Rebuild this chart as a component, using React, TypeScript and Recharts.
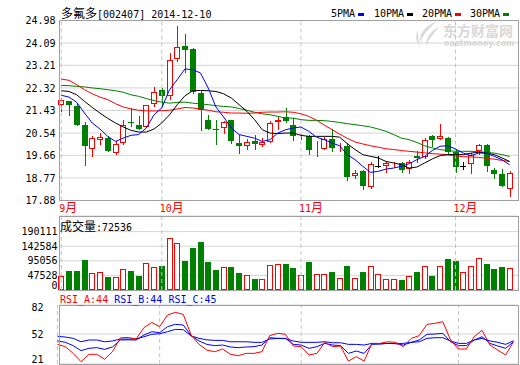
import React from "react";
import {
  Bar,
  CartesianGrid,
  ComposedChart,
  Line,
  ReferenceLine,
  XAxis,
  YAxis,
} from "recharts";

// trading days shown (2014)
const days = [
  "09-12", "09-15", "09-16", "09-17", "09-18", "09-19", "09-22", "09-23", "09-24", "09-25",
  "09-26", "09-29", "09-30", "10-08", "10-09", "10-10", "10-13", "10-14", "10-15", "10-16",
  "10-17", "10-20", "10-21", "10-22", "10-23", "10-24", "10-27", "10-28", "10-29", "10-30",
  "10-31", "11-03", "11-04", "11-05", "11-06", "11-07", "11-10", "11-11", "11-12", "11-13",
  "11-14", "11-17", "11-18", "11-19", "11-20", "11-21", "11-24", "11-25", "11-26", "11-27",
  "11-28", "12-01", "12-02", "12-03", "12-04", "12-05", "12-08", "12-09", "12-10",
];
const monthLabels: Record<string, string> = {
  "09-12": "9月",
  "10-08": "10月",
  "11-03": "11月",
  "12-01": "12月",
};

const opens = [
  21.65, 21.82, 21.62, 20.86, 19.91, 20.27, 20.34, 19.75, 20.15, 20.99,
  20.86, 20.78, 21.7, 22.25, 21.99, 23.46, 23.98, 23.87, 22.12, 21.07,
  20.69, 20.73, 21.04, 20.16, 20.02, 20.21, 20.06, 20.19, 20.96, 21.16,
  20.87, 20.38, 20.44, 19.87, 19.92, 20.31, 19.99, 20.04, 18.83, 19.06,
  18.41, 19.25, 19.25, 19.32, 19.36, 19.14, 19.62, 19.58, 20.44, 20.32,
  20.34, 19.78, 19.23, 19.32, 19.83, 20.07, 19.1, 18.94, 18.33,
];
const highs = [
  21.92, 21.82, 21.72, 20.96, 20.41, 20.54, 20.41, 20.21, 21.07, 21.53,
  21.2, 21.65, 22.36, 22.32, 23.7, 24.77, 24.46, 23.89, 22.18, 21.27,
  21.07, 21.03, 21.07, 20.48, 20.31, 20.48, 20.34, 21.0, 21.2, 21.53,
  21.14, 20.5, 20.48, 20.21, 20.38, 20.7, 20.15, 20.15, 19.07, 19.1,
  19.4, 19.65, 19.41, 19.41, 19.39, 19.49, 19.82, 20.34, 20.48, 20.91,
  20.38, 19.89, 19.41, 19.75, 20.12, 20.12, 19.16, 19.12, 19.03,
];
const lows = [
  21.36, 21.23, 20.83, 19.23, 19.6, 20.08, 19.79, 19.69, 20.06, 20.78,
  20.67, 20.74, 21.57, 21.62, 21.86, 23.33, 22.91, 22.09, 20.61, 20.65,
  20.08, 20.52, 20.12, 19.73, 19.89, 19.89, 19.98, 20.15, 20.67, 20.94,
  20.21, 20.28, 19.69, 19.59, 19.89, 19.78, 19.78, 18.64, 18.73, 18.28,
  18.33, 19.16, 18.97, 19.18, 18.97, 18.94, 19.36, 19.52, 19.99, 20.28,
  19.69, 18.97, 19.1, 18.94, 19.69, 18.99, 18.73, 18.41, 18.02,
];
const closes = [
  21.86, 21.63, 20.87, 20.02, 20.34, 20.38, 19.82, 20.11, 20.87, 20.96,
  20.71, 21.65, 22.15, 21.99, 23.43, 23.93, 23.8, 22.15, 21.44, 20.7,
  20.66, 20.99, 20.21, 20.02, 20.2, 20.12, 20.17, 20.94, 21.07, 21.0,
  20.41, 20.41, 19.86, 19.9, 20.31, 19.97, 20.03, 18.81, 18.98, 18.44,
  19.32, 19.25, 19.36, 19.35, 19.07, 19.39, 19.56, 20.25, 20.25, 20.44,
  19.78, 19.19, 19.23, 19.69, 20.06, 19.23, 18.93, 18.44, 18.97,
];
const volumes = [
  46900, 63000, 63000, 98600, 55500, 58700, 43600, 42600, 68400, 63000,
  46900, 87800, 74900, 78100, 168700, 152500, 93200, 137400, 156800, 92100,
  66300, 74900, 74900, 55500, 49000, 37200, 37200, 81400, 85700, 85700,
  72700, 50100, 90000, 53300, 53300, 57700, 40400, 79200, 40400, 57700,
  79200, 53300, 37200, 37200, 33900, 46900, 57700, 79200, 44700, 79200,
  101800, 95400, 59800, 79200, 104000, 85700, 69500, 76000, 72536,
];

const ma5 = [
  22.03, 21.96, 21.75, 21.33, 20.94, 20.7, 20.41, 20.21, 20.34, 20.45,
  20.48, 20.74, 21.26, 21.53, 22.25, 22.65, 23.07, 23.04, 22.91, 22.32,
  21.57, 21.17, 20.74, 20.48, 20.41, 20.34, 20.21, 20.28, 20.54, 20.67,
  20.74, 20.78, 20.61, 20.38, 20.28, 20.15, 20.04, 19.69, 19.49, 19.23,
  18.99, 19.03, 19.12, 19.16, 19.23, 19.33, 19.49, 19.62, 19.85, 20.02,
  20.04, 19.91, 19.75, 19.65, 19.75, 19.75, 19.62, 19.49, 19.29,
];
const ma10 = [
  22.21, 22.18, 22.05, 21.79, 21.55, 21.33, 21.12, 20.94, 20.78, 20.65,
  20.58, 20.58, 20.7, 20.94, 21.26, 21.66, 22.01, 22.21, 22.22, 22.21,
  22.18, 22.09, 21.92, 21.66, 21.4, 21.07, 20.67, 20.54, 20.52, 20.54,
  20.54, 20.45, 20.41, 20.41, 20.41, 20.41, 20.38, 20.12, 19.89, 19.69,
  19.62, 19.56, 19.42, 19.36, 19.29, 19.16, 19.2, 19.36, 19.52, 19.65,
  19.69, 19.69, 19.69, 19.75, 19.78, 19.75, 19.69, 19.56, 19.42,
];
const ma20 = [
  22.67, 22.62, 22.45, 22.25, 22.09, 21.96, 21.86, 21.7, 21.57, 21.49,
  21.44, 21.42, 21.41, 21.42, 21.44, 21.49, 21.55, 21.53, 21.49, 21.44,
  21.38, 21.36, 21.33, 21.33, 21.32, 21.33, 21.36, 21.37, 21.37, 21.38,
  21.36, 21.3, 21.2, 21.05, 20.86, 20.68, 20.5, 20.33, 20.19, 20.11,
  20.04, 19.98, 19.92, 19.89, 19.85, 19.82, 19.79, 19.76, 19.73, 19.71,
  19.68, 19.64, 19.61, 19.6, 19.58, 19.55, 19.51, 19.46, 19.42,
];
const ma30 = [
  22.42, 22.41, 22.38, 22.36, 22.32, 22.29, 22.25, 22.21, 22.15, 22.05,
  21.99, 21.9, 21.82, 21.76, 21.72, 21.75, 21.76, 21.72, 21.69, 21.66,
  21.62, 21.59, 21.57, 21.51, 21.44, 21.36, 21.3, 21.26, 21.2, 21.13,
  21.13, 21.07, 21.04, 21.04, 21.03, 21.0, 20.96, 20.91, 20.87, 20.83,
  20.78, 20.7, 20.61, 20.48, 20.34, 20.28, 20.17, 20.04, 19.95, 19.89,
  19.85, 19.82, 19.82, 19.82, 19.81, 19.78, 19.75, 19.69, 19.62,
];

const rsiA = [
  41.3, 39, 32, 23.4, 31, 31, 26, 33.7, 48, 48.5,
  46.8, 58.6, 64, 59.6, 71.7, 74.4, 72.3, 51, 41.3, 35.4,
  33.7, 36.5, 31, 29.6, 32, 32, 33.7, 50.3, 52.7, 51.7,
  39.6, 38.9, 30.3, 32, 43.4, 38.9, 39.6, 24, 28.6, 24,
  42.3, 42.3, 44, 43.4, 38.9, 47.5, 50.3, 62, 63, 64.8,
  45.8, 36.5, 36.5, 49.2, 55.8, 40.6, 35.4, 30.3, 44,
];
const rsiB = [
  44.8, 43.4, 40, 34.8, 37.2, 37.9, 36.1, 38.6, 45.8, 46,
  45.8, 51, 54.4, 53.4, 59.6, 62, 61.3, 50.3, 44.8, 41.3,
  40, 40.6, 38.6, 37.9, 38.6, 38.9, 40.6, 48.2, 47.5, 47.5,
  41.3, 40.6, 37.2, 38.9, 42.3, 40.6, 40, 32, 34.4, 32,
  41.3, 41.6, 42.3, 42, 40.6, 43.4, 45.8, 51.7, 52, 52.7,
  44, 40, 40, 45.8, 49.2, 42.3, 39.6, 37.2, 44,
];
const rsiC = [
  49.6, 48.9, 47.5, 44, 45.8, 45.8, 44, 44.8, 46.8, 46.8,
  46.8, 49.2, 51.7, 52.3, 54.4, 56.8, 56.5, 50, 47.5, 46,
  45.4, 45.4, 44, 44, 44, 43.4, 43.4, 46.8, 47.5, 47.2,
  44.8, 43.4, 43.4, 43.4, 44, 43, 43, 41.3, 41.3, 40.6,
  42.3, 42, 42.3, 42.3, 42.3, 43.4, 44, 47.5, 48.2, 48.2,
  44.8, 42.3, 42.3, 45.8, 47.5, 44.8, 43.4, 41.3, 45,
];

const priceTicks = [17.88, 18.77, 19.66, 20.54, 21.43, 22.32, 23.21, 24.09, 24.98];
const volumeTicks = [0, 47528, 95056, 142584, 190111];
const rsiTicks = [21, 52, 82];

const UP = "#ff0000";
const DOWN = "#008000";
const MONO = "'DejaVu Sans Mono', monospace";
const CJK = "'Noto Sans CJK SC', sans-serif";
const FRAME = "#a0a0a0";
const GRID = "#d4d4d4";
const MARK = "#d8d8d8";

const rows = days.map((day, i) => ({
  day,
  open: opens[i],
  high: highs[i],
  low: lows[i],
  close: closes[i],
  vol: volumes[i],
  ma5: ma5[i],
  ma10: ma10[i],
  ma20: ma20[i],
  ma30: ma30[i],
  rsiA: rsiA[i],
  rsiB: rsiB[i],
  rsiC: rsiC[i],
}));

const monthStarts = Object.keys(monthLabels);

const Candle = (props: any) => {
  const { x, y, width, height, payload } = props;
  const { open, high, low, close } = payload;
  const top = Math.min(y, y + height);
  const h = Math.abs(height);
  const py = (v: number) => Math.round(top + ((high - v) / (high - low)) * h);
  const left = Math.round(x + width / 2) - 3;
  const wx = left + 3.5;
  const yH = py(high);
  const yL = py(low);
  const yO = py(open);
  const yC = py(close);
  if (open === close) {
    return (
      <g>
        <line x1={wx} x2={wx} y1={yH} y2={yL} stroke="#000" />
        <line x1={left} x2={left + 6} y1={yO + 0.5} y2={yO + 0.5} stroke="#000" />
      </g>
    );
  }
  const up = close > open;
  const color = up ? UP : DOWN;
  const bt = Math.min(yO, yC);
  const bb = Math.max(yO, yC);
  return (
    <g>
      <line x1={wx} x2={wx} y1={yH} y2={yL} stroke={color} />
      {up ? (
        <rect x={left + 0.5} y={bt + 0.5} width={5} height={Math.max(bb - bt - 1, 0)} fill="#fff" stroke={color} />
      ) : (
        <rect x={left} y={bt} width={6} height={Math.max(bb - bt, 1)} fill={color} />
      )}
    </g>
  );
};

const VolumeBar = (props: any) => {
  const { x, y, width, height, payload } = props;
  const left = Math.round(x + width / 2) - 3;
  const t = Math.round(y);
  const b = Math.round(y + height);
  if (payload.close >= payload.open) {
    return <rect x={left + 0.5} y={t + 0.5} width={5} height={Math.max(b - t - 1, 0)} fill="#fff" stroke={UP} />;
  }
  return <rect x={left} y={t} width={6} height={b - t} fill={DOWN} />;
};

const makeYTick = (right: number, fmt: (v: number) => string, nudge: (v: number) => number) =>
  (props: any) => {
    const { y, payload } = props;
    const v = payload.value as number;
    return (
      <text x={right} y={y + 3.6 + nudge(v)} textAnchor="end" fontFamily={MONO} fontSize={10} fill="#000">
        {fmt(v)}
      </text>
    );
  };

const MonthTick = (props: any) => {
  const { x, y, payload } = props;
  const label = monthLabels[payload.value];
  if (!label) return null;
  const num = label.replace("月", "");
  return (
    <text x={x - 2} y={y + 11.5} fill="#ff0000">
      <tspan fontFamily={MONO} fontSize={10}>{num}</tspan>
      <tspan fontFamily={CJK} fontSize={12}>月</tspan>
    </text>
  );
};

const PLOT_LEFT = 57.435;
const RIGHT_MARGIN = 520 - PLOT_LEFT - 456.07;

const frame = (top: number, height: number): React.CSSProperties => ({
  position: "absolute",
  left: 59,
  top,
  width: 460,
  height,
  border: `1px solid ${FRAME}`,
  boxSizing: "border-box",
  pointerEvents: "none",
});

const abs: React.CSSProperties = { position: "absolute", left: 0, top: 0 };

const legendItems = [
  { label: "5PMA", color: "#0000ff", x: 331 },
  { label: "10PMA", color: "#000000", x: 374 },
  { label: "20PMA", color: "#ff0000", x: 422 },
  { label: "30PMA", color: "#008000", x: 470 },
];

export default function App() {
  return (
    <div style={{ position: "absolute", left: 0, top: 0, width: 520, height: 365, background: "#fff", overflow: "hidden" }}>
      {/* watermark logo, behind the plot */}
      <svg style={{ position: "absolute", left: 414, top: 21 }} width={28} height={27}>
        <path d="M22 1 C12 4 5 12 6 22 C8 15 13 9 22 1 Z" fill={MARK} />
        <path d="M25 6 C17 10 12 16 12 25 C15 18 19 13 25 6 Z" fill={MARK} />
        <path d="M4 10 C1 15 2 21 6 25 C4 20 4 15 4 10 Z" fill={MARK} />
      </svg>
      <div style={{ position: "absolute", left: 443, top: 23, whiteSpace: "nowrap", fontFamily: CJK, fontSize: 14, fontWeight: 700, color: MARK, lineHeight: "14px" }}>
        东方财富网
      </div>
      <div style={{ position: "absolute", left: 444, top: 39, whiteSpace: "nowrap", fontFamily: "'DejaVu Sans', sans-serif", fontSize: 8, fontWeight: 700, color: MARK, lineHeight: "9px" }}>
        eastmoney.com
      </div>

      {/* price panel */}
      <div style={abs}>
        <ComposedChart width={520} height={215} data={rows} margin={{ top: 20.5, right: RIGHT_MARGIN, bottom: 0, left: 0 }}>
          <CartesianGrid x={59} width={459} vertical={false} stroke={GRID} />
          <XAxis
            dataKey="day"
            height={14.5}
            axisLine={false}
            tickLine={false}
            tickSize={0}
            tickMargin={0}
            interval={0}
            tick={<MonthTick />}
          />
          <YAxis
            type="number"
            domain={[17.88, 24.98]}
            ticks={priceTicks}
            interval={0}
            width={PLOT_LEFT}
            axisLine={false}
            tickLine={false}
            tick={makeYTick(55.5, (v) => v.toFixed(2), () => 0)}
          />
          {monthStarts.map((d) => (
            <ReferenceLine key={d} x={d} stroke="#c4c4c4" strokeDasharray="4 3" />
          ))}
          <Bar dataKey={(d: any) => [d.low, d.high]} barSize={6} shape={<Candle />} isAnimationActive={false} />
          <Line type="linear" dataKey="ma30" stroke="#008000" strokeWidth={1} dot={false} isAnimationActive={false} />
          <Line type="linear" dataKey="ma20" stroke="#ff0000" strokeWidth={1} dot={false} isAnimationActive={false} />
          <Line type="linear" dataKey="ma10" stroke="#000000" strokeWidth={1} dot={false} isAnimationActive={false} />
          <Line type="linear" dataKey="ma5" stroke="#0000ff" strokeWidth={1} dot={false} isAnimationActive={false} />
        </ComposedChart>
      </div>

      {/* volume panel */}
      <div style={abs}>
        <ComposedChart width={520} height={290} data={rows} margin={{ top: 216, right: RIGHT_MARGIN, bottom: 0, left: 0 }}>
          <CartesianGrid x={59} width={459} vertical={false} stroke={GRID} />
          <XAxis dataKey="day" hide />
          <YAxis
            type="number"
            domain={[0, 240900]}
            ticks={volumeTicks}
            interval={0}
            width={PLOT_LEFT}
            axisLine={false}
            tickLine={false}
            tick={makeYTick(57.5, (v) => String(v), (v) => (v === 0 ? -4.5 : 0))}
          />
          {monthStarts.map((d) => (
            <ReferenceLine key={d} x={d} stroke="#c4c4c4" strokeDasharray="4 3" />
          ))}
          <Bar dataKey="vol" barSize={6} shape={<VolumeBar />} isAnimationActive={false} />
        </ComposedChart>
      </div>

      {/* RSI panel */}
      <div style={abs}>
        <ComposedChart width={520} height={364} data={rows} margin={{ top: 305, right: RIGHT_MARGIN, bottom: 0, left: 0 }}>
          <CartesianGrid x={59} width={459} vertical={false} stroke={GRID} />
          <XAxis dataKey="day" hide />
          <YAxis
            type="number"
            domain={[21, 82]}
            ticks={rsiTicks}
            interval={0}
            width={PLOT_LEFT}
            axisLine={false}
            tickLine={false}
            tick={makeYTick(43.5, (v) => String(v), (v) => (v === 82 ? 2.7 : v === 21 ? -4.8 : 0))}
          />
          {monthStarts.map((d) => (
            <ReferenceLine key={d} x={d} stroke="#c4c4c4" strokeDasharray="4 3" />
          ))}
          <Line type="linear" dataKey="rsiC" stroke="#0000ff" strokeWidth={1} dot={false} isAnimationActive={false} />
          <Line type="linear" dataKey="rsiB" stroke="#0000ff" strokeWidth={1} dot={false} isAnimationActive={false} />
          <Line type="linear" dataKey="rsiA" stroke="#ff0000" strokeWidth={1} dot={false} isAnimationActive={false} />
        </ComposedChart>
      </div>

      <div style={frame(20, 181)} />
      <div style={frame(216, 75)} />
      <div style={frame(305, 60)} />

      {/* title */}
      <div style={{ position: "absolute", left: 61, top: 6, lineHeight: "14px", whiteSpace: "nowrap", color: "#000" }}>
        <span style={{ fontFamily: CJK, fontSize: 12 }}>多氟多</span>
        <span style={{ fontFamily: MONO, fontSize: 10 }}>[002407] 2014-12-10</span>
      </div>

      {/* legend */}
      {legendItems.map((it) => (
        <div key={it.label} style={{ position: "absolute", left: it.x, top: 7, lineHeight: "14px", whiteSpace: "nowrap", fontFamily: MONO, fontSize: 10, color: "#000" }}>
          {it.label}
          <span style={{ display: "inline-block", width: 6, height: 3, background: it.color, marginLeft: 3, verticalAlign: "middle" }} />
        </div>
      ))}

      {/* volume label */}
      <div style={{ position: "absolute", left: 60, top: 219, lineHeight: "14px", whiteSpace: "nowrap", color: "#000" }}>
        <span style={{ fontFamily: CJK, fontSize: 12 }}>成交量</span>
        <span style={{ fontFamily: MONO, fontSize: 10 }}>:72536</span>
      </div>

      {/* RSI label */}
      <div style={{ position: "absolute", left: 60, top: 293, lineHeight: "14px", whiteSpace: "pre", fontFamily: MONO, fontSize: 10 }}>
        <span style={{ color: "#ff0000" }}>RSI_A:44</span>
        <span style={{ color: "#0000ff" }}> RSI_B:44</span>
        <span style={{ color: "#0000ff" }}> RSI_C:45</span>
      </div>
    </div>
  );
}
